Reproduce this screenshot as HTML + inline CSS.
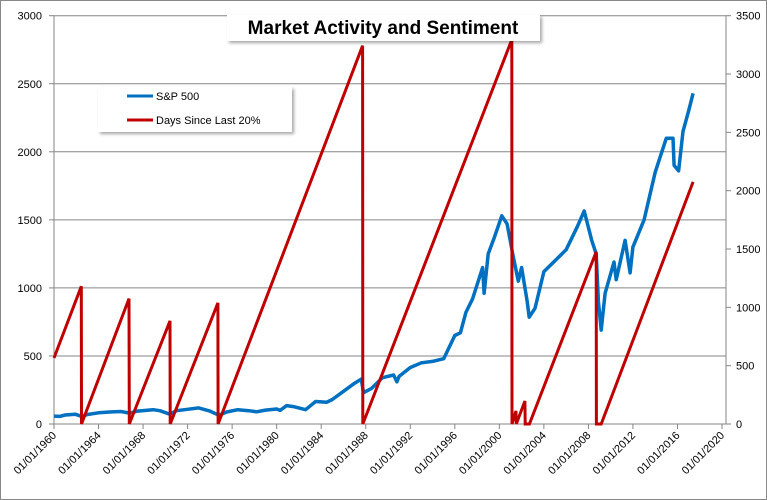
<!DOCTYPE html>
<html><head><meta charset="utf-8"><style>
html,body{margin:0;padding:0;background:#fff;}
svg{display:block;font-family:"Liberation Sans",sans-serif;}
</style></head><body>
<svg id="chart" width="767" height="500">
  <rect x="0.5" y="0.5" width="766" height="499" fill="#fff" stroke="#888"/>
  <g id="grid"></g>
  <g id="axes"></g>
  <g id="series"></g>
  <defs>
    <filter id="sh" x="-10%" y="-20%" width="130%" height="160%"><feDropShadow dx="2" dy="2" stdDeviation="1.5" flood-color="#000" flood-opacity="0.35"/></filter>
  </defs>
  <g>
    <rect x="227" y="15" width="313" height="26" fill="#fff" filter="url(#sh)"/>
    <text x="383" y="34" text-anchor="middle" font-size="19" font-weight="bold" fill="#000">Market Activity and Sentiment</text>
  </g>
  <g>
    <rect x="98" y="87" width="194" height="45" fill="#fff" filter="url(#sh)"/>
    <g>
      <line x1="127" y1="96" x2="153" y2="96" stroke="#0070C0" stroke-width="3"/>
      <text x="156" y="100" font-size="11" fill="#000">S&amp;P 500</text>
    </g>
    <g>
      <line x1="127" y1="120" x2="153" y2="120" stroke="#C00000" stroke-width="3"/>
      <text x="156" y="124" font-size="11" fill="#000">Days Since Last 20%</text>
    </g>
  </g>
</svg>
<script>
const xTickYears = [1960,1964,1968,1972,1976,1980,1984,1988,1992,1996,2000,2004,2008,2012,2016,2020];
const leftTicks = [0,500,1000,1500,2000,2500,3000];
const rightTicks = [0,500,1000,1500,2000,2500,3000,3500];
const spYears = [1960,1960.5,1961,1961.9,1962.5,1963,1964,1965,1966,1966.8,1967.5,1968.9,1969.5,1970.4,1971,1972,1973,1974,1974.8,1975.5,1976.5,1977.5,1978.2,1979,1980,1980.3,1980.9,1981.5,1982.6,1983.5,1984.5,1985,1986,1987,1987.6,1987.8,1988.5,1989.5,1990.5,1990.8,1991,1992,1993,1994,1995,1996,1996.5,1997,1997.6,1998.5,1998.63,1999,1999.5,2000.22,2000.7,2001.2,2001.7,2002,2002.5,2002.68,2003.2,2004,2005,2006,2007,2007.62,2008.3,2008.7,2008.9,2009.15,2009.5,2010.3,2010.5,2011.3,2011.75,2012,2013,2014,2015,2015.6,2015.7,2016.1,2016.5,2017,2017.4];
const spValues = [58,56,66,72,55,70,82,88,92,80,95,105,98,72,98,108,118,95,65,88,105,98,90,102,110,100,135,128,105,165,160,180,240,300,330,230,260,340,360,310,350,415,450,460,480,650,670,820,920,1150,960,1250,1360,1530,1470,1250,1050,1150,900,785,850,1120,1200,1280,1450,1565,1350,1250,900,690,960,1190,1060,1350,1110,1300,1500,1850,2100,2100,1900,1860,2150,2300,2430];
const ddYears = [1960,1962.45,1962.47,1966.74,1966.76,1970.42,1970.44,1974.72,1974.74,1987.72,1987.74,2001.12,2001.14,2001.5,2001.52,2002.3,2002.32,2002.68,2002.7,2008.7,2008.72,2009.15,2017.4];
const ddValues = [566,1180,0,1075,0,884,0,1038,0,3243,0,3294,0,112,0,197,0,0,0,1476,0,0,2075];

const NS='http://www.w3.org/2000/svg';
const X0=54,X1=722,YT=15.7,YB=424,AXR=726;
const xS=y=>X0+(y-1960)*(X1-X0)/60;
const yL=v=>YB-v*(YB-YT)/3000;
const yR=v=>YB-v*(YB-YT)/3500;
function mk(tag,attrs,parent){const e=document.createElementNS(NS,tag);for(const k in attrs)e.setAttribute(k,attrs[k]);parent.appendChild(e);return e;}
const grid=document.getElementById('grid'),axes=document.getElementById('axes'),series=document.getElementById('series');

leftTicks.forEach(v=>{
  if(v>0){const g=mk('line',{x1:X0,x2:AXR,y1:yL(v),y2:yL(v),stroke:'#868686','stroke-width':1},grid);
  
  }
  mk('line',{x1:X0-5,x2:X0,y1:yL(v),y2:yL(v),stroke:'#868686'},axes);
  const t=mk('text',{x:X0-12,y:yL(v)+4,'text-anchor':'end','font-size':11,fill:'#000'},axes);
  t.textContent=v;
  
  
});
rightTicks.forEach(v=>{
  mk('line',{x1:AXR,x2:AXR+5,y1:yR(v),y2:yR(v),stroke:'#868686'},axes);
  const t=mk('text',{x:AXR+10,y:yR(v)+4,'font-size':11,fill:'#000'},axes);
  t.textContent=v;
  
  
});
const la=mk('line',{x1:X0,x2:X0,y1:YT,y2:YB,stroke:'#868686'},axes);


const ra=mk('line',{x1:AXR,x2:AXR,y1:YT,y2:YB,stroke:'#868686'},axes);


const xa=mk('line',{x1:X0,x2:AXR,y1:YB,y2:YB,stroke:'#868686'},axes);


xTickYears.forEach(yr=>{
  const x=xS(yr);
  mk('line',{x1:x,x2:x,y1:YB,y2:YB+5,stroke:'#868686'},axes);
  const t=mk('text',{x:x+3,y:YB+12,'text-anchor':'end','font-size':11,fill:'#000',transform:`rotate(-45 ${x+3} ${YB+12})`},axes);
  t.textContent='01/01/'+yr;
  
  
});
const pts=(xs,vs,f)=>xs.map((y,i)=>xS(y).toFixed(1)+','+f(vs[i]).toFixed(1)).join(' ');
const sp=mk('polyline',{points:pts(spYears,spValues,yL),fill:'none',stroke:'#0070C0','stroke-width':3.5,'stroke-linejoin':'round'},series);


const dd=mk('polyline',{points:pts(ddYears,ddValues,yR),fill:'none',stroke:'#C00000','stroke-width':3,'stroke-linejoin':'miter'},series);


</script>
</body></html>
